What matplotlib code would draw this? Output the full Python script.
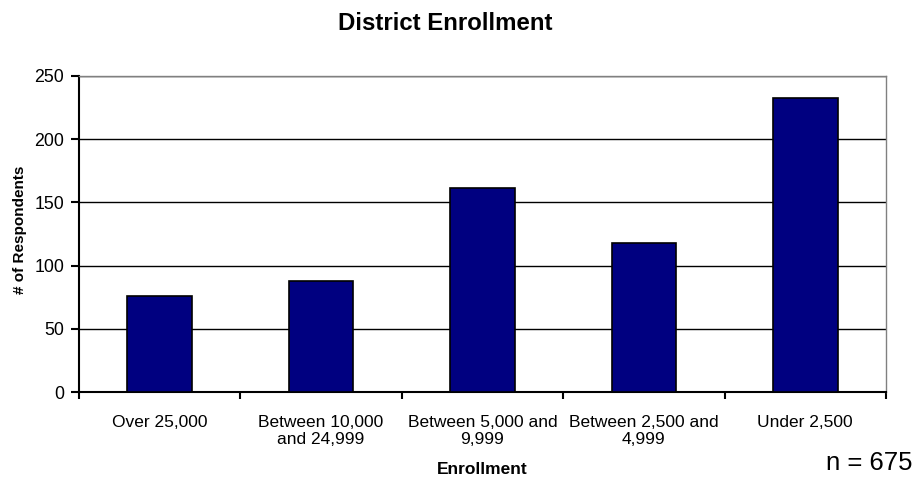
import matplotlib
matplotlib.use("Agg")
import matplotlib.pyplot as plt
import numpy as np

plt.rcParams['font.family'] = ['Liberation Sans', 'DejaVu Sans']

categories = ["Over 25,000", "Between 10,000\nand 24,999", "Between 5,000 and\n9,999",
              "Between 2,500 and\n4,999", "Under 2,500"]
respondents = [76, 88, 161, 118, 232]
y_ticks = [0, 50, 100, 150, 200, 250]

fig = plt.figure(figsize=(9.17, 4.8), dpi=100)
ax = fig.add_axes([0.0861, 0.1827, 0.8801, 0.6596])

x = np.arange(len(categories))
ax.bar(x, respondents, width=0.4, color="#000080", edgecolor="black", linewidth=1.2, zorder=3)

ax.set_xlim(-0.5, len(categories) - 0.5)
ax.set_ylim(0, 250)
ax.set_yticks(y_ticks)
ax.set_yticklabels([str(v) for v in y_ticks], fontsize=12.8)
ax.yaxis.grid(True, color="black", linewidth=1.0, zorder=0)
ax.set_axisbelow(True)

ax.set_xticks(x)
ax.set_xticklabels(categories, fontsize=12.5, linespacing=1.2)
ax.tick_params(axis="x", length=0, pad=16)
ax.set_xticks(np.arange(len(categories) + 1) - 0.5, minor=True)
ax.tick_params(axis="x", which="minor", length=5, width=1.5, color="black")
ax.tick_params(axis="y", length=6, width=1.5, color="black", pad=4.5)

for side in ["top", "right"]:
    ax.spines[side].set_color("#808080")
    ax.spines[side].set_linewidth(1.0)
for side in ["left", "bottom"]:
    ax.spines[side].set_color("black")
    ax.spines[side].set_linewidth(1.5)

fig.text(20 / 917, 1 - 230 / 480, "# of Respondents", rotation=90, ha="center", va="center",
         fontsize=11, fontweight="bold")
fig.text(482 / 917, 1 - 470 / 480, "Enrollment", ha="center", va="center",
         fontsize=12.5, fontweight="bold")
fig.text(445 / 917, 1 - 23 / 480, "District Enrollment", ha="center", va="center",
         fontsize=17.3, fontweight="bold")
fig.text(912 / 917, 1 - 463 / 480, "n = 675", ha="right", va="center", fontsize=18.5)

fig.savefig("out.png", dpi=100)
